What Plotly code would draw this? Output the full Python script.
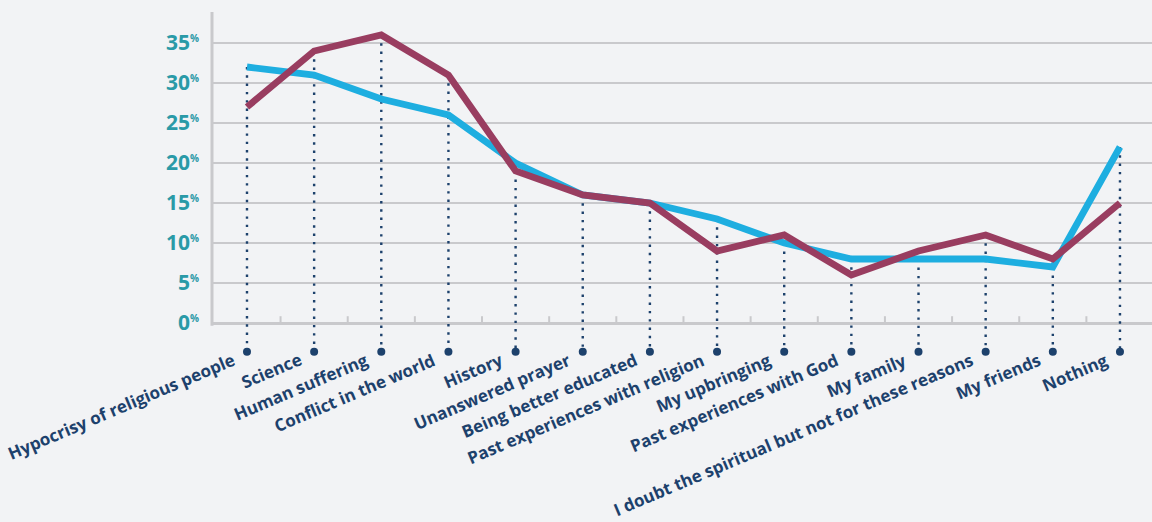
import plotly.graph_objects as go

# Survey answers: reasons people give for not believing
categories = [
    "Hypocrisy of religious people", "Science", "Human suffering",
    "Conflict in the world", "History", "Unanswered prayer",
    "Being better educated", "Past experiences with religion",
    "My upbringing", "Past experiences with God", "My family",
    "I doubt the spiritual but not for these reasons", "My friends", "Nothing",
]
series_blue = [32, 31, 28, 26, 20, 16, 15, 13, 10, 8, 8, 8, 7, 22]
series_red = [27, 34, 36, 31, 19, 16, 15, 9, 11, 6, 9, 11, 8, 15]
y_ticks = [0, 5, 10, 15, 20, 25, 30, 35]

BG = "#f2f3f5"
NAVY = "#1d416c"
TEAL = "#2a9aa7"
GRID = "#c9c9cc"
BLUE = "#1eaee0"
RED = "#993d60"

xs = list(range(len(categories)))
stem_bottom = -3.6
y_top = 38.875

fig = go.Figure()

# dotted stems from each point down to the label dot
sx, sy = [], []
for i, (b, r) in enumerate(zip(series_blue, series_red)):
    sx += [i, i, None]
    sy += [max(b, r), stem_bottom, None]
fig.add_trace(go.Scatter(
    x=sx, y=sy, mode="lines", hoverinfo="skip",
    line=dict(color=NAVY, width=2.4, dash="2.4px,5.9px"),
))

fig.add_trace(go.Scatter(
    x=xs, y=series_blue, mode="lines",
    line=dict(color=BLUE, width=6.8),
))
fig.add_trace(go.Scatter(
    x=xs, y=series_red, mode="lines",
    line=dict(color=RED, width=6.8),
))
fig.add_trace(go.Scatter(
    x=xs, y=[stem_bottom] * len(xs), mode="markers",
    marker=dict(color=NAVY, size=8), hoverinfo="skip",
))

# vertical axis line (stops at the baseline)
fig.add_shape(type="line", xref="paper", yref="y", x0=0, x1=0, y0=-0.35, y1=y_top,
              line=dict(color=GRID, width=3), layer="below")
# small inside ticks between categories on the baseline
for i in range(len(xs) - 1):
    fig.add_shape(type="line", xref="x", yref="y", x0=i + 0.5, x1=i + 0.5,
                  y0=0, y1=0.85, line=dict(color=GRID, width=2), layer="below")

# angled category labels ending at each dot
for i, name in enumerate(categories):
    fig.add_annotation(
        x=i - 0.1, y=-2.8, xref="x", yref="y", text=name,
        showarrow=False, textangle=-23, xanchor="right", yanchor="top",
        font=dict(family="Open Sans", size=17, color=NAVY, weight=700),
    )

fig.update_layout(
    width=1152, height=522,
    margin=dict(l=212, r=0, t=12, b=152),
    paper_bgcolor=BG, plot_bgcolor=BG,
    showlegend=False,
    xaxis=dict(
        range=[-0.521, 13.477], showgrid=False, zeroline=False,
        showline=False, showticklabels=False, ticks="",
    ),
    yaxis=dict(
        range=[-5.875, y_top], showgrid=True, gridcolor=GRID, gridwidth=2,
        zeroline=True, zerolinecolor=GRID, zerolinewidth=3,
        showline=False,
        tickmode="array", tickvals=y_ticks,
        ticktext=[f"{v}<sup><span style='font-size:10px'>%</span></sup>" for v in y_ticks],
        ticks="", ticklabelstandoff=12,
        tickfont=dict(family="Open Sans", size=21, color=TEAL, weight=700),
    ),
)

fig.write_html("out.html")
